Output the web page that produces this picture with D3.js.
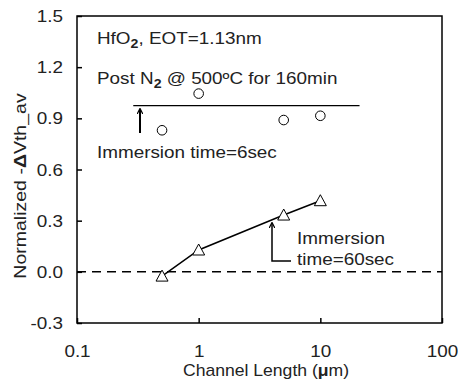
<!DOCTYPE html>
<html>
<head>
<meta charset="utf-8">
<script src="https://d3js.org/d3.v7.min.js"></script>
<style>
  body { margin: 0; background: #fff; }
  svg text { font-family: Arial, "Liberation Sans", sans-serif; fill: #222; }
</style>
</head>
<body>
<div id="chart"></div>
<script>
// data
const channelLength = [0.5, 1, 5, 10];
const dvth6sec = [0.83, 1.045, 0.89, 0.915];
const dvth60sec = [-0.025, 0.128, 0.333, 0.417];
const refLineX = [0.29, 21];
const refLineY = 0.975;
const xTicks = [0.1, 1, 10, 100];
const yTicks = [-0.3, 0, 0.3, 0.6, 0.9, 1.2, 1.5];

var svgWidth = 458;
var svgHeight = 381;
var margin = { top: 16, right: 16, bottom: 58, left: 77 };
var width = svgWidth - margin.left - margin.right;
var height = svgHeight - margin.top - margin.bottom;
var SX = 1.18; // text in the original is a bit wider than plain Arial

var svg = d3.select("#chart").append("svg")
  .attr("width", svgWidth)
  .attr("height", svgHeight);

var g = svg.append("g")
  .attr("transform", `translate(${margin.left}, ${margin.top})`);

var xScale = d3.scaleLog().domain([0.1, 100]).range([0, width]);
var yScale = d3.scaleLinear().domain([-0.3, 1.5]).range([height, 0]);

// frame
g.append("rect")
  .attr("width", width).attr("height", height)
  .attr("fill", "none").attr("stroke", "#000").attr("stroke-width", 1.5);

// axes with inward ticks
var xAxis = d3.axisBottom(xScale).tickValues(xTicks)
  .tickSize(-5).tickPadding(23).tickFormat(d => d3.format("~g")(d));
var yAxis = d3.axisLeft(yScale).tickValues(yTicks)
  .tickSize(-5).tickPadding(14).tickFormat(d => d.toFixed(1));

var gx = g.append("g").attr("transform", `translate(0, ${height})`).call(xAxis);
var gy = g.append("g").call(yAxis);
[gx, gy].forEach(a => {
  a.select(".domain").remove();
  a.selectAll(".tick line").attr("stroke", "#000").attr("stroke-width", 1.5);
  a.selectAll(".tick text").attr("font-size", 16).attr("fill", "#222")
    .attr("transform", `scale(${SX},1)`)
    .attr("x", function() { return +this.getAttribute("x") / SX; });
});
gy.selectAll(".tick text").attr("dy", "0.35em");
gx.selectAll(".tick text").attr("dy", "0.71em");

// axis titles
var xt = g.append("text")
  .attr("text-anchor", "middle")
  .attr("transform", `translate(189, ${height + 53}) scale(1.1,1)`)
  .attr("font-size", 16);
xt.append("tspan").text("Channel Length (");
xt.append("tspan").attr("font-weight", "bold").text("\u03bc");
xt.append("tspan").text("m)");

var yt = g.append("text")
  .attr("text-anchor", "middle")
  .attr("transform", `translate(-51, 170) rotate(-90) scale(1.22,1)`)
  .attr("font-size", 16);
yt.append("tspan").text("Normalized -");
yt.append("tspan").attr("font-weight", "bold").text("\u0394");
yt.append("tspan").text("Vth_av");

// zero dashed line
g.append("line")
  .attr("x1", 0).attr("x2", width)
  .attr("y1", yScale(0)).attr("y2", yScale(0))
  .attr("stroke", "#000").attr("stroke-width", 1.5)
  .attr("stroke-dasharray", "9,6");

// reference line for 6 sec
g.append("line")
  .attr("x1", xScale(refLineX[0])).attr("x2", xScale(refLineX[1]))
  .attr("y1", yScale(refLineY)).attr("y2", yScale(refLineY))
  .attr("stroke", "#000").attr("stroke-width", 1.3);

// 60 sec polyline
var line = d3.line()
  .x((d, i) => xScale(channelLength[i]))
  .y(d => yScale(d));
g.append("path")
  .datum(dvth60sec)
  .attr("d", line)
  .attr("fill", "none").attr("stroke", "#000").attr("stroke-width", 1.5);

// circles
g.selectAll("circle.c6")
  .data(dvth6sec)
  .enter().append("circle")
  .attr("class", "c6")
  .attr("cx", (d, i) => xScale(channelLength[i]))
  .attr("cy", d => yScale(d))
  .attr("r", 4.8)
  .attr("fill", "#fff").attr("stroke", "#000").attr("stroke-width", 1);

// triangles
g.selectAll("path.t60")
  .data(dvth60sec)
  .enter().append("path")
  .attr("class", "t60")
  .attr("transform", (d, i) => `translate(${xScale(channelLength[i])}, ${yScale(d)})`)
  .attr("d", "M0,-6L6,5L-6,5Z")
  .attr("fill", "#fff").attr("stroke", "#000").attr("stroke-width", 1);

// arrow marker
svg.append("defs").append("marker")
  .attr("id", "arr")
  .attr("viewBox", "0 0 10 10")
  .attr("refX", 9).attr("refY", 5)
  .attr("markerWidth", 6).attr("markerHeight", 6)
  .attr("markerUnits", "userSpaceOnUse")
  .attr("orient", "auto")
  .append("path")
  .attr("d", "M0,0L10,5L0,10")
  .attr("fill", "none").attr("stroke", "#000").attr("stroke-width", 2);

// annotations (coords in svg space)
function label(x, y) {
  return ann.append("text")
    .attr("transform", `translate(${x},${y}) scale(${SX},1)`)
    .attr("font-size", 16);
}
var ann = svg.append("g");
ann.append("line")
  .attr("x1", 140).attr("y1", 133).attr("x2", 140).attr("y2", 109)
  .attr("stroke", "#000").attr("stroke-width", 2)
  .attr("marker-end", "url(#arr)");
label(97, 158).text("Immersion time=6sec");

ann.append("path")
  .attr("d", "M291,261H272V223")
  .attr("fill", "none").attr("stroke", "#000").attr("stroke-width", 1.5)
  .attr("marker-end", "url(#arr)");
label(297, 244).text("Immersion");
label(297, 265).text("time=60sec");

var t1 = label(97, 44);
t1.append("tspan").text("HfO");
t1.append("tspan").attr("font-weight", "bold").attr("font-size", 12).attr("dy", 4).text("2");
t1.append("tspan").attr("dy", -4).text(", EOT=1.13nm");

var t2 = label(97, 84);
t2.append("tspan").text("Post N");
t2.append("tspan").attr("font-weight", "bold").attr("font-size", 12).attr("dy", 4).text("2");
t2.append("tspan").attr("dy", -4).text(" @ 500\u00baC for 160min");
</script>
</body>
</html>
